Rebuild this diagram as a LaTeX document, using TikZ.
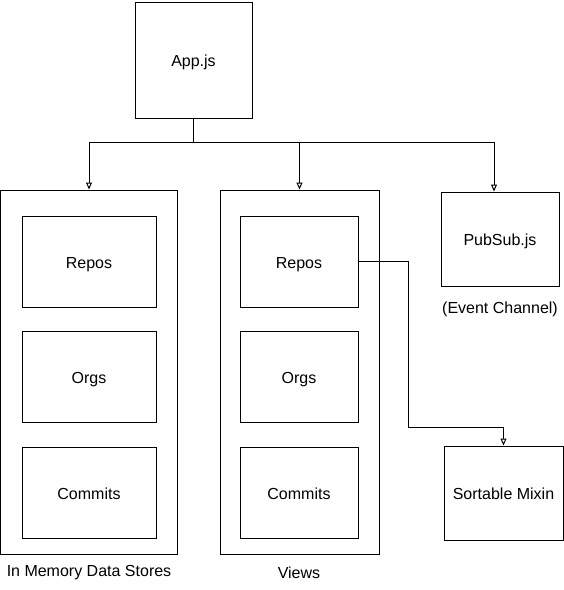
\documentclass[tikz,border=0pt]{standalone}
\usepackage{fontspec}
\setmainfont{Liberation Sans}
\usetikzlibrary{arrows.meta, positioning, calc}

\begin{document}
\begin{tikzpicture}[
    x=1pt, y=-1pt,
    box/.style={rectangle, draw=black, line width=1pt, inner sep=0pt, align=center,
                text height=13pt, text depth=0pt, font=\fontsize{16}{18}\selectfont},
    inbox/.style={box, minimum height=91pt},
    group/.style={rectangle, draw=black, line width=1pt, minimum height=364pt},
    caption/.style={font=\fontsize{16}{18}\selectfont},
    arrow/.style={-{Triangle[open, length=7pt, width=6pt]}, line width=1pt}
]
\useasboundingbox (0,0) rectangle (564,590);

% top
\node[box, minimum width=117pt, minimum height=116pt] (app) at (193.5,60) {App.js};

% containers
\node[group, minimum width=177pt] (stores) at (89,372) {};
\node[group, minimum width=159pt] (views) at (299.5,372) {};

\node[inbox, minimum width=134pt] (srepos) at (89,261.5) {Repos};
\node[inbox, minimum width=134pt, below=23.5pt of srepos] (sorgs) {Orgs};
\node[inbox, minimum width=134pt, below=23.5pt of sorgs] (scommits) {Commits};

\node[inbox, minimum width=118pt] (vrepos) at (299,261.5) {Repos};
\node[inbox, minimum width=118pt, below=23.5pt of vrepos] (vorgs) {Orgs};
\node[inbox, minimum width=118pt, below=23.5pt of vorgs] (vcommits) {Commits};

% side boxes
\node[box, minimum width=118pt, minimum height=94pt] (pubsub) at (500,239) {PubSub.js};
\node[box, minimum width=119pt, minimum height=94pt] (mixin) at (503.5,493) {Sortable Mixin};

% captions
\node[caption] (storescap) at (89,573) {In Memory Data Stores};
\node[caption] (viewscap) at (299,573) {Views};
\node[caption, below=12pt of pubsub] (pubsubcap) {(Event Channel)};

% connectors
\coordinate (split) at (193.5,142);
\draw[line width=1pt] (app.south) -- (split);
\draw[arrow] (split) -| (stores.north);
\draw[arrow] (split) -| (views.north);
\draw[arrow] (split) -| ([xshift=-6pt]pubsub.north);

\coordinate (bend) at (408,427);
\draw[arrow] (vrepos.east) -| (bend) -| (mixin.north);

\end{tikzpicture}
\end{document}
